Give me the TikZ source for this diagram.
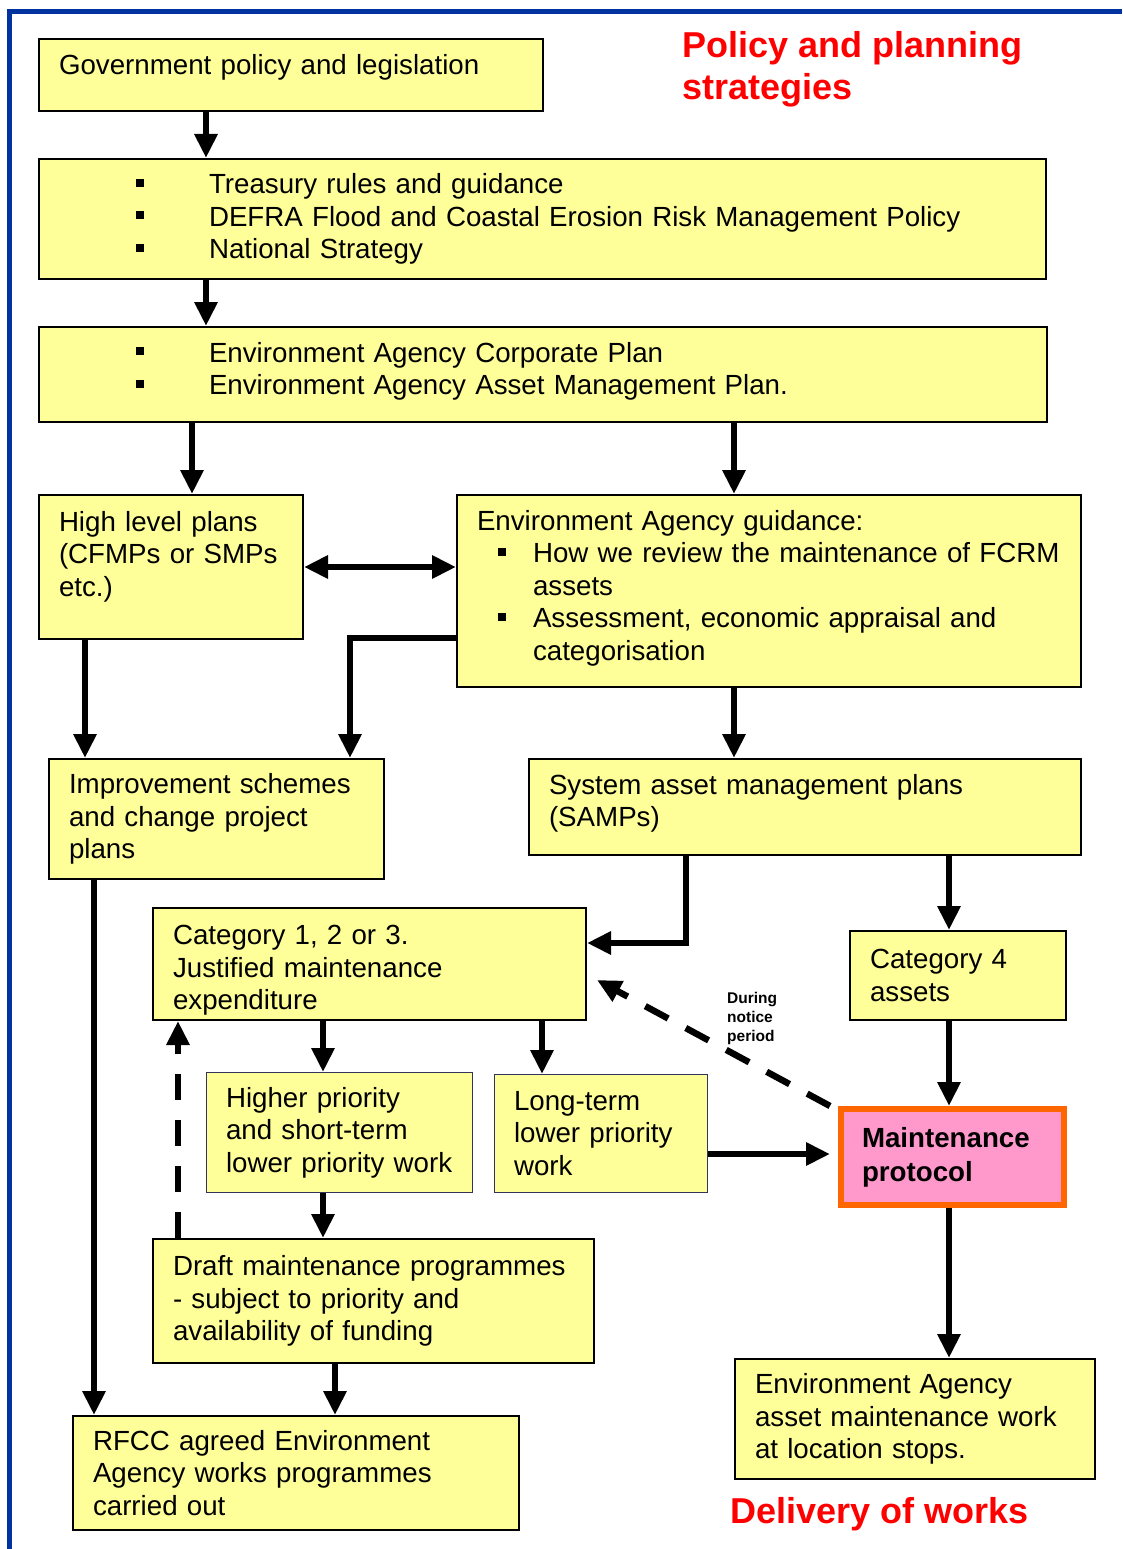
\documentclass[tikz,border=0pt]{standalone}
\usepackage{fontspec}
\setmainfont{Liberation Sans}
\usetikzlibrary{arrows.meta}
\definecolor{boxyellow}{HTML}{FFFF99}
\definecolor{protopink}{HTML}{FF99CC}
\definecolor{protoorange}{HTML}{FF6600}
\definecolor{frameblue}{HTML}{0033A0}
\definecolor{thinedge}{HTML}{33335C}
\hyphenpenalty=10000
\exhyphenpenalty=10000
\newcommand{\sqbullet}{\rule[7pt]{8pt}{8pt}}
\newcommand{\bulitem}[2]{\hspace*{#1}\makebox[#2][l]{\sqbullet}}
\tikzset{
  >={Triangle[width=22pt,length=24pt]},
  ybox/.style={draw=black, line width=2pt, fill=boxyellow, anchor=north west, align=left,
    inner xsep=20pt, inner ysep=0pt, font=\fontsize{27.7}{32.5}\selectfont},
  thinbox/.style={ybox, draw=thinedge, line width=1pt, inner xsep=19.5pt},
  arr/.style={line width=6.5pt, ->},
  dasharr/.style={arr, dash pattern=on 26pt off 20pt},
  redtitle/.style={text=red, anchor=north west, align=left, inner sep=0pt,
    font=\bfseries\fontsize{36}{42}\selectfont},
}

\begin{document}
\begin{tikzpicture}[x=1pt,y=-1pt]
  \useasboundingbox (0,0) rectangle (1122,1549);

  % frame
  \draw[frameblue, line width=5.5pt] (9.5,1549) -- (9.5,11.5) -- (1122,11.5);

  % policy boxes
  \node[ybox, text width=464pt, minimum height=72pt] (gov) at (38,38)
    {Government policy and legislation\rule[-22pt]{0pt}{22pt}};
  \node[ybox, text width=967pt, minimum height=120pt] (treas) at (38,158)
    {\bulitem{77pt}{73pt}Treasury rules and guidance\\\bulitem{77pt}{73pt}DEFRA Flood and Coastal Erosion Risk Management Policy\\\bulitem{77pt}{73pt}National Strategy};
  \node[ybox, text width=968pt, minimum height=95pt] (corp) at (38,326)
    {\bulitem{77pt}{73pt}Environment Agency Corporate Plan\\\bulitem{77pt}{73pt}Environment Agency Asset Management Plan.\rule[-12pt]{0pt}{12pt}};
  \node[ybox, text width=224pt, minimum height=144pt] (high) at (38,494)
    {High level plans\\(CFMPs~or~SMPs\\etc.)\rule[-27pt]{0pt}{27pt}};
  \node[ybox, text width=584pt, minimum height=192pt] (guide) at (456,494)
    {Environment Agency guidance:\\\bulitem{21pt}{35pt}How~we~review~the~maintenance~of~FCRM\\\hspace*{56pt}assets\\\bulitem{21pt}{35pt}Assessment, economic appraisal and\\\hspace*{56pt}categorisation\rule[-12pt]{0pt}{12pt}};
  \node[ybox, text width=295pt, minimum height=120pt] (impr) at (48,758)
    {Improvement~schemes\\and change project\\plans};
  \node[ybox, text width=512pt, minimum height=96pt] (samp) at (528,758)
    {System asset management plans\\(SAMPs)\rule[-13pt]{0pt}{13pt}};

  % maintenance boxes
  \node[ybox, text width=393pt, minimum height=112pt] (cat) at (152,907)
    {\rule{0pt}{32pt}Category 1, 2 or 3.\\Justified maintenance\\expenditure};
  \node[ybox, text width=176pt, minimum height=89pt] (cat4) at (849,930)
    {Category 4\\assets};
  \node[thinbox, text width=227pt, minimum height=120pt] (higher) at (206,1072)
    {Higher priority\\and short-term\\lower~priority~work};
  \node[thinbox, text width=174pt, minimum height=118pt] (long) at (494,1074)
    {Long-term\\lower~priority\\work};
  \node[ybox, text width=401pt, minimum height=124pt] (draft) at (152,1238)
    {Draft~maintenance~programmes\\- subject to priority and\\availability of funding};
  \node[ybox, text width=406pt, minimum height=114pt] (rfcc) at (72,1415)
    {RFCC agreed Environment\\Agency works programmes\\carried out};
  \node[ybox, text width=320pt, minimum height=120pt] (stops) at (734,1358)
    {Environment Agency\\asset~maintenance~work\\at location stops.};
  \node[draw=protoorange, fill=protopink, line width=6pt, anchor=north west, align=left,
    inner xsep=21pt, inner ysep=0pt, text width=181pt, minimum height=96pt,
    font=\bfseries\fontsize{27.7}{34}\selectfont] (proto) at (838,1106) {Maintenance\\protocol};

  % headings
  \node[redtitle] (policy) at (682,31) {Policy and planning\\strategies};
  \node[redtitle] (delivery) at (730,1497) {Delivery of works};
  \node[anchor=north west, align=left, inner sep=0pt, font=\bfseries\fontsize{15.5}{19}\selectfont]
    (notice) at (727,992) {During\\notice\\period};

  % arrows
  \draw[arr] ([xshift=168pt]gov.south west) -- ([xshift=168pt]treas.north west);
  \draw[arr] ([xshift=168pt]treas.south west) -- ([xshift=168pt]corp.north west);
  \draw[arr] ([xshift=154pt]corp.south west) -- ([xshift=154pt]high.north west);
  \draw[arr] ([xshift=696pt]corp.south west) -- ([xshift=278pt]guide.north west);
  \draw[arr, <->] (high.east) -- (high.east -| guide.west);
  \draw[arr] ([xshift=47pt]high.south west) -- ([xshift=37pt]impr.north west);
  \draw[arr] ([yshift=-144pt]guide.north west) -| ([xshift=302pt]impr.north west);
  \draw[arr] ([xshift=278pt]guide.south west) -- ([xshift=206pt]samp.north west);
  \draw[arr] ([xshift=158pt]samp.south west) |- ([yshift=-36pt]cat.north east);
  \draw[arr] ([xshift=421pt]samp.south west) -- ([xshift=100pt]cat4.north west);
  \draw[arr] ([xshift=46pt]impr.south west) -- ([xshift=22pt]rfcc.north west);
  \draw[arr] ([xshift=171pt]cat.south west) -- ([xshift=117pt]higher.north west);
  \draw[arr] ([xshift=390pt]cat.south west) -- ([xshift=48pt]long.north west);
  \draw[arr] ([xshift=117pt]higher.south west) -- ([xshift=171pt]draft.north west);
  \draw[arr] ([xshift=183pt]draft.south west) -- ([xshift=263pt]rfcc.north west);
  \draw[dasharr] ([xshift=26pt]draft.north west) -- ([xshift=26pt]cat.south west);
  \draw[arr, shorten >=8pt] ([yshift=-80pt]long.north east) -- ([yshift=-80pt]long.north east -| proto.west);
  \draw[arr] ([xshift=100pt]cat4.south west) -- ([xshift=111pt]proto.north west);
  \draw[arr] ([xshift=111pt]proto.south west) -- ([xshift=215pt]stops.north west);
  \draw[dasharr] ([xshift=-8pt]proto.north west) -- ([xshift=10pt,yshift=-73pt]cat.north east);
\end{tikzpicture}
\end{document}
